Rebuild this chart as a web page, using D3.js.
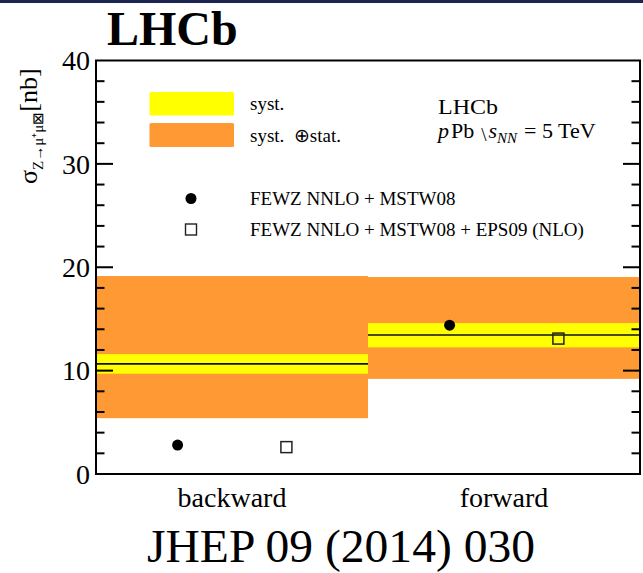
<!DOCTYPE html>
<html>
<head>
<meta charset="utf-8">
<script src="https://cdn.jsdelivr.net/npm/d3@7"></script>
<style>
html,body{margin:0;padding:0;background:#fff;}
svg{display:block;}
text{font-family:"Liberation Serif","Times New Roman",Times,serif;fill:#000;}
</style>
</head>
<body>
<script>
// ---- data ----
const categories = ["backward", "forward"];
const central    = [10.65, 13.45];
const systLow    = [9.7, 12.25];
const systHigh   = [11.6, 14.6];
const totLow     = [5.4, 9.2];
const totHigh    = [19.15, 19.05];
const fewzMSTW   = [2.8, 14.4];
const fewzEPS09  = [2.6, 13.1];
const yTicks     = [0, 10, 20, 30, 40];

const W = 643, H = 573;
const svg = d3.select("body").append("svg").attr("width", W).attr("height", H)
  .attr("font-family", "Liberation Serif, Times New Roman, serif");

// top navy bar
svg.append("rect").attr("x",0).attr("y",0).attr("width",W).attr("height",3).attr("fill","#1c2452");

const x = d3.scaleLinear().domain([0, categories.length]).range([96, 640]);
const y = d3.scaleLinear().domain([0, 40]).range([474, 60.5]);

const orange = "#ff9933", yellow = "#ffff00";

const g = svg.append("g");
// total bands
g.selectAll("rect.tot").data(categories).join("rect")
  .attr("x", (d,i)=>x(i)).attr("width", (d,i)=>x(i+1)-x(i))
  .attr("y", (d,i)=>y(totHigh[i])).attr("height", (d,i)=>y(totLow[i])-y(totHigh[i]))
  .attr("fill", orange);
// syst bands
g.selectAll("rect.syst").data(categories).join("rect")
  .attr("x", (d,i)=>x(i)).attr("width", (d,i)=>x(i+1)-x(i))
  .attr("y", (d,i)=>y(systHigh[i])).attr("height", (d,i)=>y(systLow[i])-y(systHigh[i]))
  .attr("fill", yellow);
// central lines
g.selectAll("line.c").data(categories).join("line")
  .attr("x1", (d,i)=>x(i)).attr("x2", (d,i)=>x(i+1))
  .attr("y1", (d,i)=>y(central[i])).attr("y2", (d,i)=>y(central[i]))
  .attr("stroke", "#111").attr("stroke-width", 1.6);

// frame
svg.append("rect").attr("x", x(0)).attr("y", y(40)).attr("width", x(2)-x(0)).attr("height", y(0)-y(40))
  .attr("fill","none").attr("stroke","#000").attr("stroke-width",2);

// ticks (left and right, inward)
const minor = d3.range(0, 41, 2);
minor.forEach(v => {
  const major = v % 10 === 0;
  if (v === 0 || v === 40) return;
  const len = major ? 17 : 8.5;
  svg.append("line").attr("x1", x(0)).attr("x2", x(0)+len).attr("y1", y(v)).attr("y2", y(v))
    .attr("stroke","#000").attr("stroke-width",2);
  svg.append("line").attr("x1", x(2)).attr("x2", x(2)-len).attr("y1", y(v)).attr("y2", y(v))
    .attr("stroke","#000").attr("stroke-width",2);
});

// y tick labels
svg.selectAll("text.yt").data(yTicks).join("text")
  .attr("x", 90).attr("y", d=>y(d)).attr("dy","0.35em")
  .attr("text-anchor","end").attr("font-size",28).text(d=>d);

// category labels
svg.selectAll("text.cat").data(categories).join("text")
  .attr("x", (d,i)=>x(i+0.5)).attr("y", 507)
  .attr("text-anchor","middle").attr("font-size",28).text(d=>d);

// theory points
const xoff = [0.3, 0.7];
svg.selectAll("circle.fewz").data(fewzMSTW).join("circle")
  .attr("cx", (d,i)=>x(i+xoff[0])).attr("cy", d=>y(d)).attr("r", 5.5).attr("fill","#000");
svg.selectAll("rect.eps").data(fewzEPS09).join("rect")
  .attr("x", (d,i)=>x(i+xoff[1])-5.5).attr("y", d=>y(d)-5.5).attr("width",11).attr("height",11)
  .attr("fill","none").attr("stroke","#222").attr("stroke-width",1.5);

// legend
svg.append("rect").attr("x",149.5).attr("y",92).attr("width",84.5).attr("height",23.5).attr("rx",1.5).attr("fill",yellow);
svg.append("rect").attr("x",149.5).attr("y",123).attr("width",84.5).attr("height",24).attr("rx",1.5).attr("fill",orange);
svg.append("text").attr("x",250).attr("y",110).attr("font-size",19).text("syst.");
svg.append("text").attr("x",250).attr("y",142).attr("font-size",19).attr("xml:space","preserve").text("syst.  \u2295stat.");
svg.append("circle").attr("cx",191).attr("cy",198.5).attr("r",5.5).attr("fill","#000");
svg.append("rect").attr("x",185.5).attr("y",224).attr("width",11).attr("height",11).attr("fill","none").attr("stroke","#222").attr("stroke-width",1.4);
svg.append("text").attr("x",250).attr("y",205).attr("font-size",19).text("FEWZ NNLO + MSTW08");
svg.append("text").attr("x",250).attr("y",236).attr("font-size",19).text("FEWZ NNLO + MSTW08 + EPS09 (NLO)");

// upper-right labels
svg.append("text").attr("x",438).attr("y",114).attr("font-size",22)
  .attr("textLength",60).attr("lengthAdjust","spacingAndGlyphs").text("LHCb");
const t2 = svg.append("text").attr("x",438).attr("y",138).attr("font-size",22);
t2.append("tspan").attr("font-style","italic").text("p");
t2.append("tspan").attr("dx",2).text("Pb");
t2.append("tspan").attr("font-size",19).attr("dx",7).attr("dy",3).text("\\");
t2.append("tspan").attr("font-style","italic").attr("dx",2).attr("dy",-3).text("s");
t2.append("tspan").attr("font-style","italic").attr("font-size",15).attr("dy",5).text("NN");
t2.append("tspan").attr("dx",7).attr("dy",-5).text("= 5 TeV");

// y-axis label
const yl = svg.append("text").attr("transform","translate(37,184) rotate(-90)").attr("font-size",26);
yl.append("tspan").text("\u03c3");
yl.append("tspan").attr("font-size",15).attr("dy",6).text("Z\u2192\u03bc\u207a\u03bc\u22a0");
yl.append("tspan").attr("dy",-6).text("[nb]");

// big titles
svg.append("text").attr("x",107).attr("y",45).attr("font-size",48).attr("font-weight","bold").text("LHCb");
svg.append("text").attr("x",147).attr("y",562).attr("font-size",47)
  .attr("textLength",388).attr("lengthAdjust","spacingAndGlyphs").text("JHEP 09 (2014) 030");
</script>
</body>
</html>
